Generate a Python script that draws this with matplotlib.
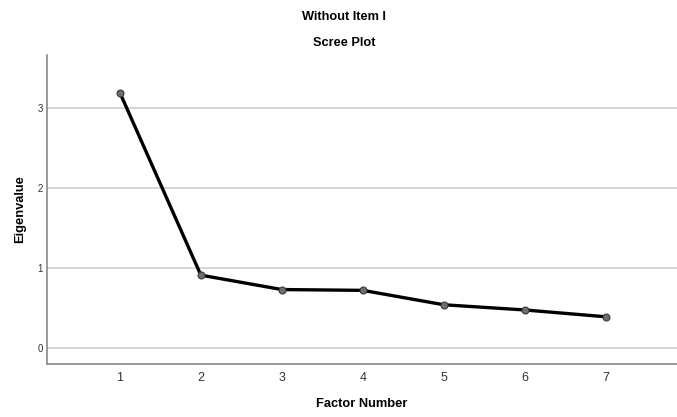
import matplotlib.pyplot as plt

# Data
factors = [1, 2, 3, 4, 5, 6, 7]
eigenvalues = [3.19, 0.91, 0.73, 0.72, 0.54, 0.475, 0.39]
y_ticks = [0, 1, 2, 3]

plt.rcParams['font.family'] = ['Liberation Sans', 'DejaVu Sans']

fig = plt.figure(figsize=(6.77, 4.17), dpi=100)
ax = fig.add_axes([47 / 677, 53 / 417, 630 / 677, 309 / 417])

for t in y_ticks:
    ax.axhline(t, color='#d0d0d0', lw=1.2, zorder=0)

ax.plot(factors, eigenvalues, color='black', lw=2.4, marker='o', markersize=5,
        markerfacecolor='#6e6e6e', markeredgecolor='#3a3a3a', markeredgewidth=0.8, zorder=3)

ax.set_xlim(0.1, 7.88)
ax.set_ylim(-0.2, 3.66)
ax.set_xticks(factors)
ax.set_yticks(y_ticks)
ax.tick_params(axis='x', length=0, labelsize=9, labelcolor='#333333', pad=6)
ax.tick_params(axis='y', length=0, labelsize=7, labelcolor='#333333', pad=3)

for s in ['top', 'right']:
    ax.spines[s].set_visible(False)
for s in ['left', 'bottom']:
    ax.spines[s].set_color('#888888')
    ax.spines[s].set_linewidth(1.2)

ax.set_xlabel('Factor Number', fontsize=9.3, fontweight='bold', labelpad=10)
ax.set_ylabel('Eigenvalue', fontsize=9.3, fontweight='bold', labelpad=8)

fig.text(0.508, 1 - 17 / 417, 'Without Item I', ha='center', va='center', fontsize=9.2, fontweight='bold')
fig.text(0.508, 1 - 43 / 417, 'Scree Plot', ha='center', va='center', fontsize=9.2, fontweight='bold')

fig.savefig('out.png', dpi=100)
